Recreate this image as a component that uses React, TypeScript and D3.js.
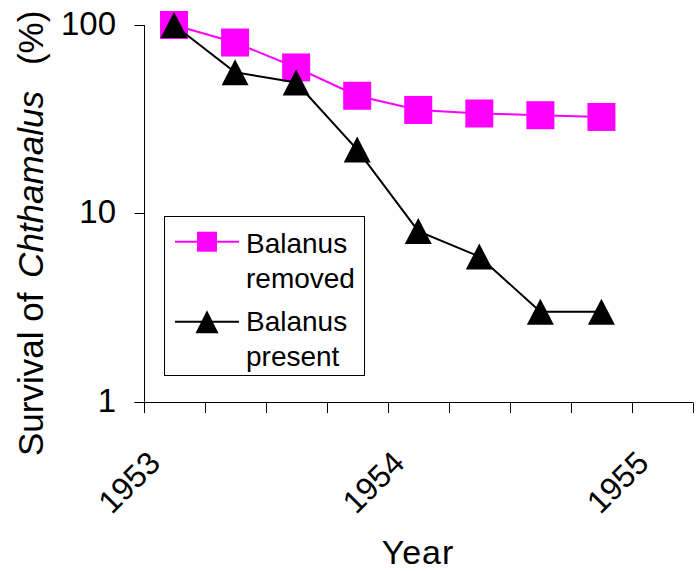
import React from "react";
import * as d3 from "d3";

// ---- data ----
const categoryCount = 9; // quarterly category slots on the x axis
const sampleIndex = [0, 1, 2, 3, 4, 5, 6, 7];
const balanusRemoved = [100, 80.7, 59.5, 42.1, 35.4, 33.9, 33.2, 32.5];
const balanusPresent = [100, 56.1, 49.5, 21.8, 8.05, 5.9, 3.0, 3.0];
const yearLabels = ["1953", "1954", "1955"];
const yearLabelIndex = [0, 4, 8];
const yTicks = [1, 10, 100];

const W = 698;
const H = 571;
const FONT = "'Liberation Sans', Arial, Helvetica, sans-serif";

export default function App() {
  const x = d3.scaleLinear().domain([0, categoryCount]).range([143.5, 693]);
  const y = d3.scaleLog().domain([1, 100]).range([401.7, 25]);
  const cx = (i: number) => x(i + 0.5);

  const line = d3
    .line<[number, number]>()
    .x((d) => d[0])
    .y((d) => d[1]);

  const ptsRemoved: [number, number][] = sampleIndex.map((i, k) => [cx(i), y(balanusRemoved[k])]);
  const ptsPresent: [number, number][] = sampleIndex.map((i, k) => [cx(i), y(balanusPresent[k])]);

  const sq = d3.symbol().type(d3.symbolSquare).size(28 * 28)();
  const triPath = (w: number, h: number) => `M0,${-h / 2}L${w / 2},${h / 2}L${-w / 2},${h / 2}Z`;
  const tri = triPath(27, 26);
  const sqLeg = d3.symbol().type(d3.symbolSquare).size(20 * 20)();
  const triLeg = triPath(23, 23);

  const xTicks = d3.range(0, categoryCount + 1);
  const y0 = y(1);
  const axisX = Math.round(x(0)) + 0.5;

  return (
    <svg
      width={W}
      height={H}
      style={{ position: "absolute", left: 0, top: 0, background: "#fff" }}
      fontFamily={FONT}
    >
      <rect x={0} y={0} width={W} height={H} fill="#fff" />

      {/* y axis */}
      <line x1={axisX} x2={axisX} y1={y(100)} y2={y0} stroke="#000" strokeWidth={1} />
      {yTicks.map((t) => (
        <g key={t}>
          <line x1={axisX - 10} x2={axisX} y1={Math.round(y(t)) + 0.5} y2={Math.round(y(t)) + 0.5} stroke="#000" />
          <text x={116} y={y(t)} dy="0.3em" textAnchor="end" fontSize={33} fill="#000">
            {d3.format("d")(t)}
          </text>
        </g>
      ))}

      {/* x axis */}
      <line x1={axisX - 10} x2={x(categoryCount)} y1={Math.round(y0) + 0.5} y2={Math.round(y0) + 0.5} stroke="#000" />
      {xTicks.map((t) => (
        <line
          key={t}
          x1={Math.round(x(t)) + 0.5}
          x2={Math.round(x(t)) + 0.5}
          y1={Math.round(y0) + 0.5}
          y2={Math.round(y0) + 11}
          stroke="#000"
        />
      ))}
      {yearLabels.map((lab, k) => {
        const ax = cx(yearLabelIndex[k]) - 12;
        const ay = 465;
        return (
          <text
            key={lab}
            x={ax}
            y={ay}
            textAnchor="end"
            fontSize={32}
            transform={`rotate(-45 ${ax} ${ay})`}
            fill="#000"
          >
            {lab}
          </text>
        );
      })}

      {/* axis titles */}
      <text x={418} y={564} textAnchor="middle" fontSize={34} letterSpacing={1} fill="#000">
        Year
      </text>
      <text x={0} y={0} fontSize={35} fill="#000" transform={`translate(43,456) rotate(-90)`}>
        <tspan>Survival of </tspan>
        <tspan dx={5} fontStyle="italic">Chthamalus</tspan>
        <tspan dx={26}>(%)</tspan>
      </text>

      {/* series: Balanus removed */}
      <path d={line(ptsRemoved) || ""} fill="none" stroke="#ff00ff" strokeWidth={2} />
      {ptsRemoved.map((p, k) => (
        <path key={k} d={sq || ""} transform={`translate(${p[0]},${p[1]})`} fill="#ff00ff" />
      ))}

      {/* series: Balanus present */}
      <path d={line(ptsPresent) || ""} fill="none" stroke="#000" strokeWidth={2} />
      {ptsPresent.map((p, k) => (
        <path key={k} d={tri} transform={`translate(${p[0]},${p[1]})`} fill="#000" />
      ))}

      {/* legend */}
      <rect x={164.5} y={216.5} width={200} height={159} fill="#fff" stroke="#000" strokeWidth={1} />
      <line x1={175} x2={239} y1={241.7} y2={241.7} stroke="#ff00ff" strokeWidth={2} />
      <path d={sqLeg || ""} transform="translate(207,241.7)" fill="#ff00ff" />
      <line x1={175} x2={239} y1={321.7} y2={321.7} stroke="#000" strokeWidth={2} />
      <path d={triLeg} transform="translate(207,321.7)" fill="#000" />
      <text x={246} y={253} fontSize={28} fill="#000">Balanus</text>
      <text x={246} y={288} fontSize={28} fill="#000">removed</text>
      <text x={246} y={331} fontSize={28} fill="#000">Balanus</text>
      <text x={246} y={366} fontSize={28} fill="#000">present</text>
    </svg>
  );
}
